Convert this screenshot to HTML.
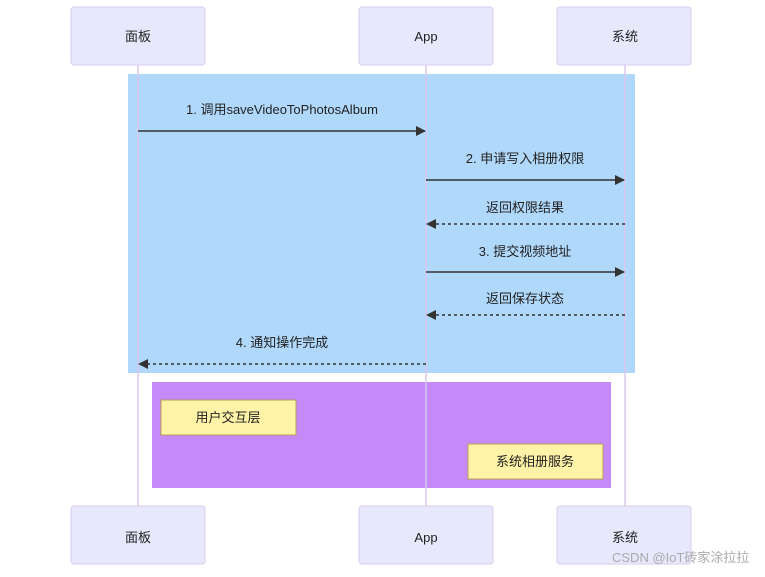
<!DOCTYPE html>
<html><head><meta charset="utf-8"><style>
body{margin:0;background:#fff;width:765px;height:572px;overflow:hidden}
svg text{font-family:"Liberation Sans","Noto Sans CJK SC",sans-serif;font-size:13px;fill:#222}
</style></head><body>
<svg width="765" height="572" viewBox="0 0 765 572">
<defs>
<marker id="a" markerWidth="10" markerHeight="10" refX="9" refY="5" orient="auto" markerUnits="userSpaceOnUse"><path d="M0,0 L10,5 L0,10z" fill="#333"/></marker>
</defs>
<rect x="128" y="74" width="507" height="299" fill="#b0d8fb"/>
<rect x="152" y="382" width="459" height="106" fill="#c68af8"/>
<g stroke="#d8c8f0" stroke-width="1.5">
<line x1="138" y1="65" x2="138" y2="506"/>
<line x1="426" y1="65" x2="426" y2="506"/>
<line x1="625" y1="65" x2="625" y2="506"/>
</g>
<g fill="#e8e8fc" stroke="#d8ccf2">
<rect x="71" y="7" width="134" height="58" rx="3"/>
<rect x="359" y="7" width="134" height="58" rx="3"/>
<rect x="557" y="7" width="134" height="58" rx="3"/>
<rect x="71" y="506" width="134" height="58" rx="3"/>
<rect x="359" y="506" width="134" height="58" rx="3"/>
<rect x="557" y="506" width="134" height="58" rx="3"/>
</g>
<g text-anchor="middle" font-size="14">
<text x="138" y="41">面板</text><text x="426" y="41">App</text><text x="625" y="41">系统</text>
<text x="138" y="542">面板</text><text x="426" y="542">App</text><text x="625" y="542">系统</text>
</g>
<g fill="#fff3a8" stroke="#b8a050">
<rect x="161" y="400" width="135" height="35"/>
<rect x="468" y="444" width="135" height="35"/>
</g>
<text x="228" y="422" text-anchor="middle">用户交互层</text>
<text x="535" y="466" text-anchor="middle">系统相册服务</text>
<g stroke="#333" stroke-width="1.5">
<line x1="138" y1="131" x2="425" y2="131" marker-end="url(#a)"/>
<line x1="426" y1="180" x2="624" y2="180" marker-end="url(#a)"/>
<line x1="625" y1="224" x2="427" y2="224" stroke-dasharray="3,3" marker-end="url(#a)"/>
<line x1="426" y1="272" x2="624" y2="272" marker-end="url(#a)"/>
<line x1="625" y1="315" x2="427" y2="315" stroke-dasharray="3,3" marker-end="url(#a)"/>
<line x1="426" y1="364" x2="139" y2="364" stroke-dasharray="3,3" marker-end="url(#a)"/>
</g>
<g text-anchor="middle">
<text x="282" y="114">1. 调用saveVideoToPhotosAlbum</text>
<text x="525" y="163">2. 申请写入相册权限</text>
<text x="525" y="212">返回权限结果</text>
<text x="525" y="256">3. 提交视频地址</text>
<text x="525" y="303">返回保存状态</text>
<text x="282" y="347">4. 通知操作完成</text>
</g>
<text x="612" y="562" font-size="12" fill="#bbb" style="fill:#aaa">CSDN @IoT砖家涂拉拉</text>
</svg>
</body></html>
